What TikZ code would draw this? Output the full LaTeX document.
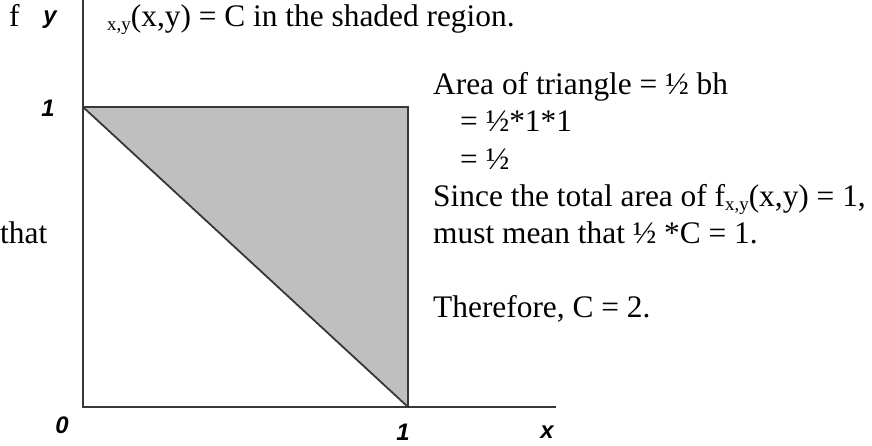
\documentclass[tikz,border=0pt]{standalone}
\usepackage{fontspec}
\setmainfont{Liberation Serif}
\newfontfamily\axisfont{Liberation Sans}
\newcommand\subtxt[1]{\raisebox{-4bp}{\fontsize{19}{19}\selectfont #1}}
\tikzset{
  axisline/.style={line width=1.8bp, draw=black!78},
  txt/.style={anchor=base west, inner sep=0pt, font=\fontsize{31.5}{37}\selectfont},
  lbl/.style={inner sep=0pt, font=\axisfont\fontsize{24}{24}\selectfont\bfseries\itshape},
}
\begin{document}
\begin{tikzpicture}[x=1bp,y=-1bp]
\useasboundingbox (0,0) rectangle (872,446);
\coordinate (O) at (83,407);
\coordinate (Ytop) at (83,0);
\coordinate (Xend) at (556,407);
\coordinate (A) at (83,107);
\coordinate (B) at (408,107);
\coordinate (Cc) at (408,407);
\fill[black!25] (A) -- (B) -- (Cc) -- cycle;
\draw[axisline] (Ytop) -- (O) -- (Xend);
\draw[axisline] (A) -- (B) -- (Cc);
\draw[axisline] (A) -- (Cc);
\node[lbl] (ly) at (50,20) {y};
\node[lbl] (l1y) at (48,108) {1};
\node[lbl] (l0) at (62,425) {0};
\node[lbl] (l1x) at (403,432) {1};
\node[lbl] (lx) at (547,432) {x};
\node[txt] (f) at (9,27) {f};
\node[txt] (top) at (107,27) {\subtxt{x,y}(x,y) = C in the shaded region.};
\node[txt] (t1) at (433,95) {Area of triangle = ½ bh};
\node[txt] (t2) at (460,132) {= ½*1*1};
\node[txt] (t3) at (460,170) {= ½};
\node[txt] (t4) at (433,207) {Since the total area of f\subtxt{x,y}(x,y) = 1,};
\node[txt] (t5) at (433,244) {must mean that ½ *C = 1.};
\node[txt] (that) at (0,244) {that};
\node[txt] (t6) at (433,318) {Therefore, C = 2.};
\end{tikzpicture}
\end{document}
